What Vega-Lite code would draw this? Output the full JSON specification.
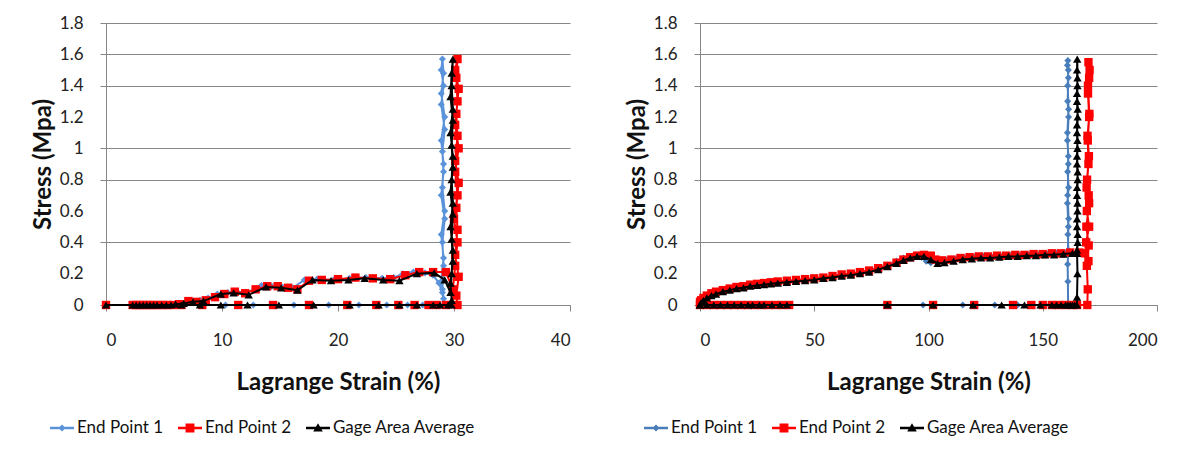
{
  "$schema": "https://vega.github.io/schema/vega-lite/v6.json",
  "background": "white",
  "padding": {"left": 31, "top": 14, "right": 5, "bottom": 5},
  "config": {
    "font": "Lato",
    "view": {"stroke": null},
    "axis": {
      "labelFont": "Lato", "labelFontSize": 17, "labelColor": "#222222", "labelOverlap": false,
      "titleFont": "Lato", "titleFontSize": 24, "titleFontWeight": "bold", "titleColor": "#111111",
      "domainColor": "#868686", "tickColor": "#868686", "gridColor": "#868686", "tickSize": 6
    }
  },
  "datasets": {
    "S": [{"s": "End Point 1"}, {"s": "End Point 2"}, {"s": "Gage Area Average"}],
    "L1": [
      {"x":0,"y":0},{"x":2.3,"y":0},{"x":2.5,"y":0},{"x":2.8,"y":0},{"x":3.1,"y":0},{"x":3.4,"y":0},{"x":3.7,"y":0},{"x":4.0,"y":0},{"x":4.3,"y":0},{"x":4.7,"y":0},{"x":5.1,"y":0},{"x":5.5,"y":0},{"x":5.9,"y":0.005},{"x":6.4,"y":0.01},{"x":6.9,"y":0.02},{"x":7.5,"y":0.025},{"x":8.1,"y":0.03},{"x":8.8,"y":0.045},{"x":9.6,"y":0.07},{"x":10.5,"y":0.08},{"x":11.3,"y":0.085},{"x":12.1,"y":0.08},{"x":12.8,"y":0.1},{"x":13.4,"y":0.125},{"x":14.3,"y":0.12},{"x":15.2,"y":0.115},{"x":16.1,"y":0.11},{"x":17.1,"y":0.16},{"x":18.2,"y":0.165},{"x":19.6,"y":0.16},{"x":21.0,"y":0.17},{"x":22.4,"y":0.175},{"x":23.8,"y":0.17},{"x":24.8,"y":0.175},{"x":25.6,"y":0.2},{"x":26.5,"y":0.21},{"x":27.5,"y":0.205},{"x":28.2,"y":0.19},{"x":28.7,"y":0.14},{"x":29.0,"y":0.08},{"x":29.1,"y":0.04},{"x":28.9,"y":0.15},{"x":29.1,"y":0.3},{"x":28.9,"y":0.45},{"x":29.2,"y":0.6},{"x":29.0,"y":0.75},{"x":29.1,"y":0.9},{"x":28.9,"y":1.05},{"x":29.2,"y":1.2},{"x":28.9,"y":1.35},{"x":29.1,"y":1.48},{"x":29.0,"y":1.57},{"x":28.9,"y":1.5},{"x":29.1,"y":1.4},{"x":28.9,"y":1.28},{"x":29.2,"y":1.12},{"x":29.0,"y":0.98},{"x":29.1,"y":0.85},{"x":28.9,"y":0.7},{"x":29.2,"y":0.55},{"x":29.0,"y":0.4},{"x":29.1,"y":0.25},{"x":29.0,"y":0.1},{"x":29.2,"y":0},{"x":28.7,"y":0},{"x":27.3,"y":0},{"x":26.0,"y":0},{"x":24.2,"y":0},{"x":21.8,"y":0},{"x":19.2,"y":0},{"x":16.2,"y":0},{"x":12.7,"y":0},{"x":10.3,"y":0},{"x":8.0,"y":0},{"x":6.3,"y":0}
    ],
    "L2": [
      {"x":0,"y":0},{"x":2.3,"y":0},{"x":2.6,"y":0},{"x":2.9,"y":0},{"x":3.2,"y":0},{"x":3.5,"y":0},{"x":3.8,"y":0},{"x":4.1,"y":0},{"x":4.5,"y":0},{"x":4.9,"y":0},{"x":5.3,"y":0},{"x":5.8,"y":0},{"x":6.3,"y":0.005},{"x":7.1,"y":0.025},{"x":7.8,"y":0.02},{"x":8.6,"y":0.03},{"x":9.4,"y":0.05},{"x":10.2,"y":0.07},{"x":11.1,"y":0.085},{"x":12.0,"y":0.075},{"x":12.9,"y":0.1},{"x":13.9,"y":0.12},{"x":14.8,"y":0.12},{"x":15.7,"y":0.11},{"x":16.5,"y":0.1},{"x":17.5,"y":0.155},{"x":18.6,"y":0.16},{"x":20.0,"y":0.165},{"x":21.5,"y":0.175},{"x":23.0,"y":0.17},{"x":24.5,"y":0.165},{"x":25.8,"y":0.19},{"x":27.0,"y":0.21},{"x":28.2,"y":0.21},{"x":29.3,"y":0.21},{"x":29.9,"y":0.1},{"x":30.1,"y":0.25},{"x":30.3,"y":0.4},{"x":30.0,"y":0.55},{"x":30.3,"y":0.7},{"x":30.1,"y":0.85},{"x":30.4,"y":1.0},{"x":30.1,"y":1.15},{"x":30.3,"y":1.3},{"x":30.2,"y":1.45},{"x":30.3,"y":1.57},{"x":30.1,"y":1.5},{"x":30.4,"y":1.38},{"x":30.2,"y":1.22},{"x":30.3,"y":1.08},{"x":30.1,"y":0.92},{"x":30.4,"y":0.78},{"x":30.2,"y":0.62},{"x":30.3,"y":0.48},{"x":30.1,"y":0.32},{"x":30.4,"y":0.18},{"x":30.2,"y":0.06},{"x":30.3,"y":0},{"x":29.3,"y":0},{"x":28.5,"y":0},{"x":27.8,"y":0},{"x":26.6,"y":0},{"x":25.2,"y":0},{"x":23.3,"y":0},{"x":20.8,"y":0},{"x":17.5,"y":0},{"x":14.4,"y":0},{"x":11.4,"y":0},{"x":8.3,"y":0},{"x":6.5,"y":0}
    ],
    "L3": [
      {"x":0,"y":0},{"x":2.3,"y":0},{"x":2.6,"y":0},{"x":2.9,"y":0},{"x":3.2,"y":0},{"x":3.5,"y":0},{"x":3.8,"y":0},{"x":4.1,"y":0},{"x":4.4,"y":0},{"x":4.8,"y":0},{"x":5.2,"y":0},{"x":5.6,"y":0},{"x":6.0,"y":0.005},{"x":6.7,"y":0.01},{"x":7.5,"y":0.02},{"x":8.4,"y":0.025},{"x":9.9,"y":0.07},{"x":11.0,"y":0.077},{"x":12.3,"y":0.065},{"x":13.8,"y":0.115},{"x":15.1,"y":0.11},{"x":16.5,"y":0.095},{"x":17.8,"y":0.16},{"x":19.4,"y":0.155},{"x":20.9,"y":0.16},{"x":22.3,"y":0.17},{"x":23.9,"y":0.16},{"x":25.3,"y":0.155},{"x":26.8,"y":0.2},{"x":28.3,"y":0.205},{"x":29.2,"y":0.16},{"x":29.7,"y":0.08},{"x":29.8,"y":0.2},{"x":29.9,"y":0.35},{"x":29.7,"y":0.5},{"x":29.9,"y":0.65},{"x":29.8,"y":0.8},{"x":29.9,"y":0.95},{"x":29.7,"y":1.1},{"x":29.9,"y":1.25},{"x":29.8,"y":1.4},{"x":29.9,"y":1.57},{"x":29.8,"y":1.48},{"x":29.7,"y":1.33},{"x":29.9,"y":1.18},{"x":29.8,"y":1.02},{"x":29.9,"y":0.88},{"x":29.7,"y":0.72},{"x":29.9,"y":0.58},{"x":29.8,"y":0.42},{"x":29.9,"y":0.28},{"x":29.7,"y":0.14},{"x":29.8,"y":0.03},{"x":29.8,"y":0},{"x":29.5,"y":0},{"x":28.8,"y":0},{"x":28.2,"y":0},{"x":26.8,"y":0},{"x":25.3,"y":0},{"x":23.5,"y":0},{"x":21.0,"y":0},{"x":17.9,"y":0},{"x":14.9,"y":0},{"x":12.2,"y":0},{"x":9.9,"y":0},{"x":8.1,"y":0},{"x":6.5,"y":0}
    ],
    "R1": [
      {"x":0,"y":0},{"x":0.5,"y":0.02},{"x":1.5,"y":0.035},{"x":3,"y":0.05},{"x":5,"y":0.065},{"x":7,"y":0.075},{"x":10,"y":0.09},{"x":13,"y":0.1},{"x":16,"y":0.11},{"x":19,"y":0.115},{"x":22,"y":0.125},{"x":25,"y":0.13},{"x":28,"y":0.135},{"x":31,"y":0.14},{"x":34,"y":0.145},{"x":38,"y":0.15},{"x":42,"y":0.155},{"x":46,"y":0.16},{"x":50,"y":0.165},{"x":54,"y":0.175},{"x":58,"y":0.18},{"x":62,"y":0.19},{"x":66,"y":0.2},{"x":70,"y":0.21},{"x":74,"y":0.22},{"x":78,"y":0.235},{"x":82,"y":0.255},{"x":86,"y":0.28},{"x":89,"y":0.3},{"x":92,"y":0.31},{"x":95,"y":0.315},{"x":97,"y":0.305},{"x":99,"y":0.28},{"x":101,"y":0.27},{"x":104,"y":0.275},{"x":108,"y":0.285},{"x":112,"y":0.295},{"x":116,"y":0.3},{"x":120,"y":0.305},{"x":124,"y":0.31},{"x":128,"y":0.305},{"x":132,"y":0.31},{"x":136,"y":0.315},{"x":140,"y":0.315},{"x":144,"y":0.32},{"x":148,"y":0.32},{"x":152,"y":0.325},{"x":156,"y":0.33},{"x":159,"y":0.33},{"x":161,"y":0.34},
      {"x":161.2,"y":0.5},{"x":160.8,"y":0.65},{"x":161.3,"y":0.75},{"x":160.9,"y":0.85},{"x":161.2,"y":0.95},{"x":160.8,"y":1.05},{"x":161.3,"y":1.2},{"x":160.9,"y":1.3},{"x":161.2,"y":1.45},{"x":160.8,"y":1.53},{"x":161,"y":1.56},{"x":161.2,"y":1.5},{"x":160.9,"y":1.4},{"x":161.3,"y":1.25},{"x":160.8,"y":1.1},{"x":161.2,"y":0.9},{"x":160.9,"y":0.7},{"x":161.3,"y":0.55},{"x":161,"y":0.45},{"x":161.2,"y":0.35},{"x":160.9,"y":0.26},{"x":161,"y":0.15},{"x":161.1,"y":0},
      {"x":160,"y":0},{"x":159,"y":0},{"x":158,"y":0},{"x":157,"y":0},{"x":156,"y":0},{"x":155,"y":0},{"x":153,"y":0},{"x":139,"y":0},{"x":129,"y":0},{"x":115,"y":0},{"x":97.6,"y":0},{"x":81,"y":0},{"x":39,"y":0},{"x":35,"y":0},{"x":31,"y":0},{"x":27,"y":0},{"x":23,"y":0},{"x":19,"y":0},{"x":15,"y":0},{"x":11,"y":0},{"x":7,"y":0},{"x":3,"y":0},{"x":0,"y":0}
    ],
    "R2": [
      {"x":0,"y":0.02},{"x":0.5,"y":0.03},{"x":1.5,"y":0.045},{"x":3,"y":0.06},{"x":5,"y":0.075},{"x":7,"y":0.085},{"x":10,"y":0.095},{"x":13,"y":0.105},{"x":16,"y":0.115},{"x":19,"y":0.12},{"x":22,"y":0.13},{"x":25,"y":0.135},{"x":28,"y":0.14},{"x":31,"y":0.145},{"x":34,"y":0.15},{"x":38,"y":0.155},{"x":42,"y":0.16},{"x":46,"y":0.165},{"x":50,"y":0.17},{"x":54,"y":0.175},{"x":58,"y":0.185},{"x":62,"y":0.195},{"x":66,"y":0.2},{"x":70,"y":0.21},{"x":74,"y":0.22},{"x":78,"y":0.235},{"x":82,"y":0.25},{"x":86,"y":0.27},{"x":89,"y":0.29},{"x":92,"y":0.305},{"x":95,"y":0.315},{"x":98,"y":0.32},{"x":101,"y":0.315},{"x":103,"y":0.29},{"x":106,"y":0.285},{"x":110,"y":0.29},{"x":114,"y":0.3},{"x":118,"y":0.305},{"x":122,"y":0.31},{"x":126,"y":0.31},{"x":130,"y":0.315},{"x":134,"y":0.315},{"x":138,"y":0.32},{"x":142,"y":0.32},{"x":146,"y":0.325},{"x":150,"y":0.325},{"x":154,"y":0.33},{"x":158,"y":0.33},{"x":162,"y":0.335},{"x":166,"y":0.335},{"x":168.5,"y":0.33},
      {"x":170,"y":0.28},{"x":169,"y":0.4},{"x":170.3,"y":0.5},{"x":169.3,"y":0.6},{"x":170.1,"y":0.7},{"x":169.2,"y":0.75},{"x":170,"y":0.9},{"x":169.7,"y":1.05},{"x":170.3,"y":1.2},{"x":169.8,"y":1.35},{"x":170.3,"y":1.45},{"x":170,"y":1.55},{"x":170.5,"y":1.5},{"x":169.8,"y":1.4},{"x":170.4,"y":1.22},{"x":169.6,"y":1.08},{"x":170.2,"y":0.95},{"x":169.4,"y":0.8},{"x":170.3,"y":0.65},{"x":169.1,"y":0.5},{"x":170.1,"y":0.38},{"x":169.3,"y":0.25},{"x":169.7,"y":0.1},{"x":169.5,"y":0},
      {"x":165,"y":0},{"x":163,"y":0},{"x":160,"y":0},{"x":157,"y":0},{"x":154,"y":0},{"x":150,"y":0},{"x":145,"y":0},{"x":137,"y":0},{"x":120,"y":0},{"x":102,"y":0},{"x":82,"y":0},{"x":39,"y":0},{"x":36,"y":0},{"x":33,"y":0},{"x":30,"y":0},{"x":27,"y":0},{"x":24,"y":0},{"x":21,"y":0},{"x":18,"y":0},{"x":15,"y":0},{"x":12,"y":0},{"x":9,"y":0},{"x":6,"y":0},{"x":3,"y":0},{"x":0,"y":0}
    ],
    "R3": [
      {"x":0,"y":0},{"x":0.5,"y":0.015},{"x":1.5,"y":0.03},{"x":3,"y":0.045},{"x":5,"y":0.06},{"x":7,"y":0.07},{"x":10,"y":0.085},{"x":13,"y":0.095},{"x":16,"y":0.105},{"x":19,"y":0.11},{"x":22,"y":0.12},{"x":25,"y":0.125},{"x":28,"y":0.13},{"x":31,"y":0.135},{"x":34,"y":0.14},{"x":38,"y":0.145},{"x":42,"y":0.15},{"x":46,"y":0.155},{"x":50,"y":0.16},{"x":54,"y":0.17},{"x":58,"y":0.175},{"x":62,"y":0.185},{"x":66,"y":0.19},{"x":70,"y":0.2},{"x":74,"y":0.21},{"x":78,"y":0.225},{"x":82,"y":0.245},{"x":86,"y":0.265},{"x":89,"y":0.285},{"x":92,"y":0.3},{"x":95,"y":0.31},{"x":98,"y":0.31},{"x":101,"y":0.29},{"x":104,"y":0.265},{"x":107,"y":0.27},{"x":111,"y":0.28},{"x":115,"y":0.29},{"x":119,"y":0.295},{"x":123,"y":0.3},{"x":127,"y":0.3},{"x":131,"y":0.305},{"x":135,"y":0.31},{"x":139,"y":0.31},{"x":143,"y":0.315},{"x":147,"y":0.315},{"x":151,"y":0.32},{"x":155,"y":0.32},{"x":159,"y":0.325},{"x":163,"y":0.33},{"x":165,"y":0.33},
      {"x":165.3,"y":0.4},{"x":165,"y":0.5},{"x":165.2,"y":0.6},{"x":165,"y":0.7},{"x":165.3,"y":0.8},{"x":165,"y":0.9},{"x":165.2,"y":1.0},{"x":165,"y":1.1},{"x":165.3,"y":1.2},{"x":165,"y":1.3},{"x":165.2,"y":1.4},{"x":165,"y":1.5},{"x":165.1,"y":1.57},{"x":165.2,"y":1.45},{"x":165,"y":1.35},{"x":165.3,"y":1.25},{"x":165,"y":1.15},{"x":165.2,"y":1.05},{"x":165,"y":0.95},{"x":165.3,"y":0.85},{"x":165,"y":0.75},{"x":165.2,"y":0.65},{"x":165,"y":0.55},{"x":165.3,"y":0.45},{"x":165,"y":0.35},{"x":165.2,"y":0.2},{"x":165,"y":0.05},{"x":165,"y":0},
      {"x":164,"y":0},{"x":163,"y":0},{"x":162,"y":0},{"x":161,"y":0},{"x":160,"y":0},{"x":158,"y":0},{"x":156,"y":0},{"x":154,"y":0},{"x":149,"y":0},{"x":142,"y":0},{"x":132,"y":0},{"x":119.5,"y":0},{"x":102,"y":0},{"x":82,"y":0},{"x":38,"y":0},{"x":35,"y":0},{"x":31.5,"y":0},{"x":28,"y":0},{"x":26,"y":0},{"x":23,"y":0},{"x":21,"y":0},{"x":18,"y":0},{"x":15,"y":0},{"x":12,"y":0},{"x":9,"y":0},{"x":6,"y":0},{"x":3,"y":0},{"x":0,"y":0}
    ]
  },
  "spacing": 130,
  "bounds": "flush",
  "resolve": {
    "scale": {"color": "independent", "shape": "independent", "x": "independent", "y": "independent"},
    "legend": {"color": "independent", "shape": "independent"}
  },
  "hconcat": [
    {
      "width": 464, "height": 282,
      "layer": [
        {
          "data": {"name": "L1"},
          "mark": {"type": "line", "color": "#5B93DB", "strokeWidth": 2, "point": {"shape": "diamond", "size": 50, "filled": true, "color": "#5B93DB"}},
          "encoding": {
            "x": {"field": "x", "type": "quantitative", "scale": {"domain": [0, 40], "nice": false},
                  "axis": {"title": "Lagrange Strain (%)", "values": [0, 10, 20, 30, 40], "tickCount": 20, "grid": false, "labelPadding": 21, "titlePadding": 22, "titleFontSize": 24, "labelFontSize": 17, "labelOverlap": false}},
            "y": {"field": "y", "type": "quantitative", "scale": {"domain": [0, 1.8], "nice": false},
                  "axis": {"title": "Stress (Mpa)", "values": [0, 0.2, 0.4, 0.6, 0.8, 1, 1.2, 1.4, 1.6, 1.8], "tickCount": 20, "format": "~g", "grid": true, "labelOverlap": false, "titleFontSize": 24, "labelFontSize": 17,
                           "gridOpacity": {"condition": {"test": "round(datum.value*10)==2 || round(datum.value*10)==6 || round(datum.value*10)==12", "value": 0}, "value": 1},
                           "tickOpacity": {"condition": {"test": "round(datum.value*10)==2 || round(datum.value*10)==6 || round(datum.value*10)==12", "value": 0}, "value": 1},
                           "labelPadding": 17, "titlePadding": 4}},
            "order": {"value": null}
          }
        },
        {
          "data": {"name": "L2"},
          "mark": {"type": "line", "color": "#FF0000", "strokeWidth": 2, "point": {"shape": "square", "size": 70, "filled": true, "color": "#FF0000"}},
          "encoding": {"x": {"field": "x", "type": "quantitative"}, "y": {"field": "y", "type": "quantitative"}, "order": {"value": null}}
        },
        {
          "data": {"name": "L3"},
          "mark": {"type": "line", "color": "#000000", "strokeWidth": 2, "point": {"shape": "triangle-up", "size": 70, "filled": true, "color": "#000000"}},
          "encoding": {"x": {"field": "x", "type": "quantitative"}, "y": {"field": "y", "type": "quantitative"}, "order": {"value": null}}
        },
        {
          "data": {"name": "S"},
          "mark": {"type": "point", "filled": true, "opacity": 0},
          "encoding": {
            "color": {"field": "s", "type": "nominal",
                      "scale": {"domain": ["End Point 1", "End Point 2", "Gage Area Average"], "range": ["#5B93DB", "#FF0000", "#000000"]},
                      "legend": {"orient": "none", "legendX": -56, "legendY": 393, "direction": "horizontal", "columns": 3, "title": null, "symbolSize": 576, "symbolStrokeWidth": 0, "symbolOpacity": 1, "labelFont": "Lato", "labelFontSize": 17, "labelColor": "#111111", "columnPadding": 14, "labelOffset": 3}},
            "shape": {"field": "s", "type": "nominal",
                      "scale": {"domain": ["End Point 1", "End Point 2", "Gage Area Average"],
                                "range": ["M-1,-0.1H1V0.1H-1Z M0,-0.3L0.3,0L0,0.3L-0.3,0Z", "M-1,-0.1H1V0.1H-1Z M-0.37,-0.37H0.37V0.37H-0.37Z", "M-1,-0.1H1V0.1H-1Z M0,-0.4L0.4,0.3H-0.4Z"]},
                      "legend": {"orient": "none", "legendX": -56, "legendY": 393, "direction": "horizontal", "columns": 3, "title": null, "symbolSize": 576, "symbolStrokeWidth": 0, "symbolOpacity": 1, "labelFont": "Lato", "labelFontSize": 17, "labelColor": "#111111", "columnPadding": 14, "labelOffset": 3}}
          }
        }
      ]
    },
    {
      "width": 457, "height": 282,
      "layer": [
        {
          "data": {"name": "R1"},
          "mark": {"type": "line", "color": "#4A7EBB", "strokeWidth": 2, "point": {"shape": "diamond", "size": 50, "filled": true, "color": "#4A7EBB"}},
          "encoding": {
            "x": {"field": "x", "type": "quantitative", "scale": {"domain": [0, 200], "nice": false},
                  "axis": {"title": "Lagrange Strain (%)", "values": [0, 50, 100, 150, 200], "tickCount": 20, "grid": false, "labelPadding": 21, "titlePadding": 22, "titleFontSize": 24, "labelFontSize": 17, "labelOverlap": false}},
            "y": {"field": "y", "type": "quantitative", "scale": {"domain": [0, 1.8], "nice": false},
                  "axis": {"title": "Stress (Mpa)", "values": [0, 0.2, 0.4, 0.6, 0.8, 1, 1.2, 1.4, 1.6, 1.8], "tickCount": 20, "format": "~g", "grid": true, "labelOverlap": false, "titleFontSize": 24, "labelFontSize": 17,
                           "gridOpacity": {"condition": {"test": "round(datum.value*10)==2 || round(datum.value*10)==6 || round(datum.value*10)==12", "value": 0}, "value": 1},
                           "tickOpacity": {"condition": {"test": "round(datum.value*10)==2 || round(datum.value*10)==6 || round(datum.value*10)==12", "value": 0}, "value": 1},
                           "labelPadding": 17, "titlePadding": 4}},
            "order": {"value": null}
          }
        },
        {
          "data": {"name": "R2"},
          "mark": {"type": "line", "color": "#FF0000", "strokeWidth": 2, "point": {"shape": "square", "size": 70, "filled": true, "color": "#FF0000"}},
          "encoding": {"x": {"field": "x", "type": "quantitative"}, "y": {"field": "y", "type": "quantitative"}, "order": {"value": null}}
        },
        {
          "data": {"name": "R3"},
          "mark": {"type": "line", "color": "#000000", "strokeWidth": 2, "point": {"shape": "triangle-up", "size": 70, "filled": true, "color": "#000000"}},
          "encoding": {"x": {"field": "x", "type": "quantitative"}, "y": {"field": "y", "type": "quantitative"}, "order": {"value": null}}
        },
        {
          "data": {"name": "S"},
          "mark": {"type": "point", "filled": true, "opacity": 0},
          "encoding": {
            "color": {"field": "s", "type": "nominal",
                      "scale": {"domain": ["End Point 1", "End Point 2", "Gage Area Average"], "range": ["#4A7EBB", "#FF0000", "#000000"]},
                      "legend": {"orient": "none", "legendX": -56, "legendY": 393, "direction": "horizontal", "columns": 3, "title": null, "symbolSize": 576, "symbolStrokeWidth": 0, "symbolOpacity": 1, "labelFont": "Lato", "labelFontSize": 17, "labelColor": "#111111", "columnPadding": 14, "labelOffset": 3}},
            "shape": {"field": "s", "type": "nominal",
                      "scale": {"domain": ["End Point 1", "End Point 2", "Gage Area Average"],
                                "range": ["M-1,-0.1H1V0.1H-1Z M0,-0.3L0.3,0L0,0.3L-0.3,0Z", "M-1,-0.1H1V0.1H-1Z M-0.37,-0.37H0.37V0.37H-0.37Z", "M-1,-0.1H1V0.1H-1Z M0,-0.4L0.4,0.3H-0.4Z"]},
                      "legend": {"orient": "none", "legendX": -56, "legendY": 393, "direction": "horizontal", "columns": 3, "title": null, "symbolSize": 576, "symbolStrokeWidth": 0, "symbolOpacity": 1, "labelFont": "Lato", "labelFontSize": 17, "labelColor": "#111111", "columnPadding": 14, "labelOffset": 3}}
          }
        }
      ]
    }
  ]
}
